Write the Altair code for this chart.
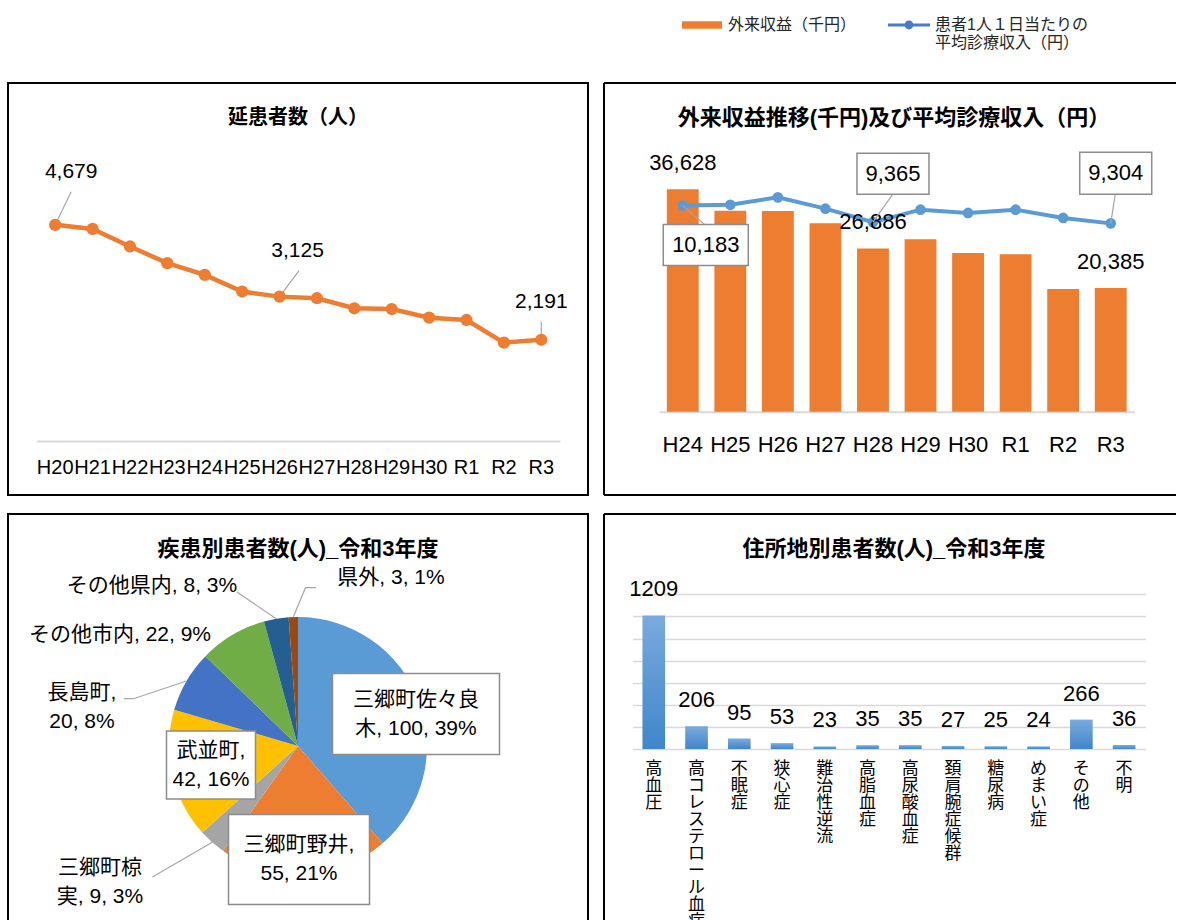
import math
import altair as alt
import pandas as pd

# ---------------- data ----------------
years_a = ["H20", "H21", "H22", "H23", "H24", "H25", "H26", "H27", "H28", "H29", "H30", "R1", "R2", "R3"]
patients = [4679, 4590, 4210, 3850, 3596, 3235, 3125, 3090, 2873, 2857, 2670, 2620, 2129, 2191]

years_b = ["H24", "H25", "H26", "H27", "H28", "H29", "H30", "R1", "R2", "R3"]
revenue = [36628, 33100, 33050, 31020, 26886, 28380, 26140, 25910, 20200, 20385]
avg_income = [10183, 10220, 10590, 10030, 9365, 9980, 9820, 9980, 9570, 9304]

series_names = ["外来収益（千円）", "患者1人１日当たりの平均診療収入（円）"]

areas = ["三郷町佐々良木", "三郷町野井", "三郷町椋実", "武並町", "長島町", "その他市内", "その他県内", "県外"]
area_counts = [100, 55, 9, 42, 20, 22, 8, 3]

diseases = ["高血圧", "高コレステロール血症", "不眠症", "狭心症", "難治性逆流", "高脂血症",
            "高尿酸血症", "頚肩腕症候群", "糖尿病", "めまい症", "その他", "不明"]
disease_counts = [1209, 206, 95, 53, 23, 35, 35, 27, 25, 24, 266, 36]

titles = ["延患者数（人）", "外来収益推移(千円)及び平均診療収入（円）",
          "疾患別患者数(人)_令和3年度", "住所地別患者数(人)_令和3年度"]

# ---------------- style ----------------
FONT = "Liberation Sans, Noto Sans CJK JP, sans-serif"
ORANGE = "#ED7D31"
BLUE = "#5B9BD5"
LEG_BLUE = "#4A7BC8"
AXIS_GRAY = "#D9D9D9"
LEADER = "#A6A6A6"
BOX_STROKE = "#8C8C8C"
PIE_COLORS = ["#5B9BD5", "#ED7D31", "#A5A5A5", "#FFC000", "#4472C4", "#70AD47", "#255E91", "#9E480E"]
PW, PH = 580, 412      # left panels (full box)
PW2 = 572              # right panels (box continues past the page edge)
VIEW = alt.ViewBackground(stroke="black", strokeWidth=2, fill="white")
NOVIEW = alt.ViewBackground(stroke="transparent", strokeWidth=0, fill="white")


def box_path(w, h):
    k = h / w
    return f"M-1,-{k:.4f}H1V{k:.4f}H-1Z"


def title_layer(text, size, w):
    return alt.Chart(pd.DataFrame({"t": [text]})).mark_text(
        fontSize=size, fontWeight="bold", color="black", baseline="middle"
    ).encode(text="t:N", x=alt.value(w / 2), y=alt.value(35))


def open_border(w, h, bottom=True):
    """left, top (and bottom) edges of a panel whose right edge lies off the page"""
    one = pd.DataFrame({"a": [0]})
    rule = lambda: alt.Chart(one).mark_rule(color="black", strokeWidth=2)
    out = [rule().encode(x=alt.value(0), y=alt.value(0), y2=alt.value(h)),
           rule().encode(x=alt.value(0), x2=alt.value(w), y=alt.value(0))]
    if bottom:
        out.append(rule().encode(x=alt.value(0), x2=alt.value(w), y=alt.value(h)))
    return out


# ---------------- panel 1 : line ----------------
df1 = pd.DataFrame({"year": years_a, "v": patients})
x1 = alt.X("year:N", scale=alt.Scale(type="band", domain=years_a, range=[28.5, 552],
                                      paddingInner=0, paddingOuter=0),
           axis=alt.Axis(title=None, offset=-54, domainColor=AXIS_GRAY, domainWidth=2,
                         ticks=False, tickSize=0, labelPadding=26, labelFontSize=20,
                         labelBaseline="middle", labelAngle=0, labelColor="black",
                         labelOverlap=False, grid=False))
y1 = alt.Y("v:Q", scale=alt.Scale(domain=[0, 5000], range=[358, 127], nice=False), axis=None)

# (index, label dx, label dy, leader end dx, leader end dy)
lab1 = [(0, 16, -53, 16, -33), (6, 18, -46, 19.5, -26), (13, 0, -38, 0, -18)]

layers1 = [title_layer(titles[0], 20, PW),
           alt.Chart(df1).mark_line(color=ORANGE, strokeWidth=4.5).encode(x=x1, y=y1)]
for idx, dx, dy, ex, ey in lab1:
    layers1.append(alt.Chart(df1.iloc[[idx]]).mark_rule(
        color=LEADER, strokeWidth=1.2, x2Offset=ex, y2Offset=ey
    ).encode(x=x1, y=y1, x2=alt.X2("year"), y2=alt.Y2("v")))
layers1.append(alt.Chart(df1).mark_circle(color=ORANGE, size=150, opacity=1).encode(x=x1, y=y1))
for idx, dx, dy, ex, ey in lab1:
    layers1.append(alt.Chart(df1.iloc[[idx]]).mark_text(
        dx=dx, dy=dy, fontSize=21, color="black", baseline="middle"
    ).encode(x=x1, y=y1, text=alt.Text("v:Q", format=",")))
p1 = alt.layer(*layers1).properties(width=PW, height=PH, view=VIEW)

# ---------------- panel 2 : bars + line ----------------
df2 = pd.DataFrame({"year": years_b, "v": revenue, "w": avg_income})
x2 = alt.X("year:N", scale=alt.Scale(type="band", domain=years_b, range=[55, 530.5],
                                      paddingInner=0.33, paddingOuter=0.165),
           axis=alt.Axis(title=None, offset=-83.3, domainColor=AXIS_GRAY, domainWidth=2,
                         ticks=False, tickSize=0, labelPadding=33, labelFontSize=22,
                         labelBaseline="middle", labelAngle=0, labelColor="black",
                         labelOverlap=False, grid=False))
y2b = alt.Y("v:Q", scale=alt.Scale(domain=[0, 40000], range=[328.7, 85.8], nice=False), axis=None)
y2l = alt.Y("w:Q", scale=alt.Scale(domain=[0, 12000], range=[328.7, 85.8], nice=False), axis=None)

bar_lab_idx = [0, 4, 9]
# (index, box dx, box dy, box w, box h, leader end dx, leader end dy)
lab2 = [(0, 23, 39.5, 85, 41, 22, 19), (4, 20, -48.5, 72, 41, 19.5, -27.5), (9, 5, -50, 72, 42, 4.5, -29)]

layers2 = open_border(PW2, PH) + [
    title_layer(titles[1], 22, PW),
    alt.Chart(df2).mark_bar(color=ORANGE).encode(x=x2, y=y2b),
    alt.Chart(df2).mark_line(color=BLUE, strokeWidth=4).encode(x=x2, y=y2l),
    alt.Chart(df2).mark_circle(color=BLUE, size=115, opacity=1).encode(x=x2, y=y2l),
    alt.Chart(df2.iloc[bar_lab_idx]).mark_text(dy=-26, fontSize=22, color="black", baseline="middle")
    .encode(x=x2, y=y2b, text=alt.Text("v:Q", format=",")),
]
for idx, dx, dy, bw, bh, ex, ey in lab2:
    d = df2.iloc[[idx]]
    layers2.append(alt.Chart(d).mark_rule(color=LEADER, strokeWidth=1.2, x2Offset=ex, y2Offset=ey)
                   .encode(x=x2, y=y2l, x2=alt.X2("year"), y2=alt.Y2("w")))
    layers2.append(alt.Chart(d).mark_point(shape=box_path(bw, bh), size=bw * bw, filled=True,
                                           fill="white", stroke=BOX_STROKE, strokeWidth=1.5,
                                           opacity=1, xOffset=dx, yOffset=dy)
                   .encode(x=x2, y=y2l))
    layers2.append(alt.Chart(d).mark_text(dx=dx, dy=dy, fontSize=22, color="black", baseline="middle")
                   .encode(x=x2, y=y2l, text=alt.Text("w:Q", format=",")))
p2 = alt.layer(*layers2).resolve_scale(y="independent").properties(width=PW2, height=PH, view=NOVIEW)

# ---------------- panel 3 : pie ----------------
CX, CY, R = 290, 232, 129
LH = 29
total = sum(area_counts)
raw = [c * 100 / total for c in area_counts]
pct = [math.floor(r) for r in raw]
for i in sorted(range(len(raw)), key=lambda i: raw[i] - pct[i], reverse=True)[: 100 - sum(pct)]:
    pct[i] += 1
wrap_at = [6, 6, 4, 4, 4, 0, 0, 0]
label_off = [(118, -32), (1, 113.5), (-198, 136), (-87, 19), (-216, -39), (-178, -111), (-146, -160), (93, -168)]
box_size = {0: (167, 81), 1: (141, 90), 3: (89, 68)}
leader_pts = {2: [(-145.6, 131)], 4: [(-164.4, -47.3), (-174, -47.3)],
              6: [(-61, -154)], 7: [(7.5, -158.3), (18, -158.3)]}

labels, mids, nlines = [], [], []
cum = 0
for i, (n, c) in enumerate(zip(areas, area_counts)):
    full = f"{n}, {c}, {pct[i]}%"
    if wrap_at[i]:
        full = full[:wrap_at[i]] + "\n" + full[wrap_at[i]:].strip()
    labels.append(full)
    nlines.append(full.count("\n") + 1)
    mids.append((cum + c / 2) / total * 2 * math.pi)
    cum += c

pie_df = pd.DataFrame({"name": areas, "count": area_counts, "idx": list(range(len(areas))), "col": PIE_COLORS})
lab_df = pd.DataFrame({"label": labels,
                       "lx": [CX + o[0] for o in label_off],
                       "ly": [CY + o[1] - (k - 1) * LH / 2 for o, k in zip(label_off, nlines)]})
box_df = pd.DataFrame({"bx": [CX + label_off[i][0] for i in box_size],
                       "by": [CY + label_off[i][1] for i in box_size],
                       "shp": [box_path(*box_size[i]) for i in box_size],
                       "sz": [box_size[i][0] ** 2 for i in box_size]})
lrows = []
for i, pts in leader_pts.items():
    lrows.append({"lid": i, "o": 0, "x": CX + R * math.sin(mids[i]), "y": CY - R * math.cos(mids[i])})
    for k, (px, py) in enumerate(pts):
        lrows.append({"lid": i, "o": k + 1, "x": CX + px, "y": CY + py})
lead_df = pd.DataFrame(lrows)

p3 = alt.layer(
    title_layer(titles[2], 22, PW),
    alt.Chart(pie_df).mark_arc(outerRadius=R).encode(
        theta=alt.Theta("count:Q", stack=True), order=alt.Order("idx:Q"),
        color=alt.Color("col:N", scale=None), x=alt.value(CX), y=alt.value(CY)),
    alt.Chart(lead_df).mark_line(color=LEADER, strokeWidth=1.2).encode(
        x=alt.X("x:Q", scale=None), y=alt.Y("y:Q", scale=None), detail="lid:N", order="o:Q"),
    alt.Chart(box_df).mark_point(filled=True, fill="white", stroke=BOX_STROKE, strokeWidth=1.5, opacity=1)
    .encode(x=alt.X("bx:Q", scale=None), y=alt.Y("by:Q", scale=None),
            shape=alt.Shape("shp:N", scale=None), size=alt.Size("sz:Q", scale=None)),
    alt.Chart(lab_df).mark_text(fontSize=21, lineBreak="\n", lineHeight=LH, color="black", baseline="middle")
    .encode(x=alt.X("lx:Q", scale=None), y=alt.Y("ly:Q", scale=None), text="label:N"),
).properties(width=PW, height=PH, view=VIEW)

# ---------------- panel 4 : bars ----------------
df4 = pd.DataFrame({"d": diseases, "c": disease_counts})
x4 = alt.X("d:N", scale=alt.Scale(type="band", domain=diseases, range=[28.4, 541.5],
                                   paddingInner=0.47, paddingOuter=0.235),
           axis=alt.Axis(title=None, offset=-177, domain=False, ticks=False, tickSize=0,
                         labelPadding=11, labelFontSize=17, labelLineHeight=17, labelBaseline="top",
                         labelAngle=0, labelColor="black", labelOverlap=False,
                         labelExpr="split(datum.label, '')", grid=False))
y4 = alt.Y("c:Q", scale=alt.Scale(domain=[0, 1400], range=[235, 80.3], nice=False),
           axis=alt.Axis(title=None, labels=False, ticks=False, domain=False, grid=True,
                         values=list(range(0, 1401, 200)), gridColor=AXIS_GRAY, gridWidth=1.5))
grad = alt.LinearGradient(gradient="linear",
                          stops=[alt.GradientStop(color="#7AAADD", offset=0),
                                 alt.GradientStop(color="#3F86CB", offset=1)],
                          x1=0, x2=0, y1=0, y2=1)
p4 = alt.layer(*(open_border(PW2, PH, bottom=False) + [
    title_layer(titles[3], 22, PW),
    alt.Chart(df4).mark_bar(color=grad).encode(x=x4, y=y4),
    alt.Chart(df4).mark_text(dy=-26, fontSize=22, color="black", baseline="middle")
    .encode(x=x4, y=y4, text="c:Q"),
])).properties(width=PW2, height=PH, view=NOVIEW)

# ---------------- legend strip ----------------
rect_sym = "M-1,-0.19H1V0.19H-1Z"
line_sym = ("M-1.05,-0.075H1.05V0.075H-1.05Z "
            "M-0.22,0A0.22,0.22 0 1,1 0.22,0A0.22,0.22 0 1,1 -0.22,0Z")
leg = alt.Legend(title=None, orient="none", legendX=674, legendY=5, direction="horizontal",
                 symbolSize=1600, labelFontSize=16, labelBaseline="middle", labelOffset=6,
                 columnPadding=31, labelLimit=400, labelColor="#262626", symbolOpacity=1,
                 symbolStrokeWidth=0, padding=0,
                 labelExpr="length(datum.label) > 12 ? [substring(datum.label, 0, 10), substring(datum.label, 10)] : [datum.label, '']")
legend_chart = alt.Chart(pd.DataFrame({"series": series_names})).mark_point(filled=True, opacity=0).encode(
    color=alt.Color("series:N", scale=alt.Scale(domain=series_names, range=[ORANGE, LEG_BLUE]), legend=leg),
    shape=alt.Shape("series:N", scale=alt.Scale(domain=series_names, range=[rect_sym, line_sym]), legend=leg),
).properties(width=1100, height=65, view=NOVIEW)

chart = alt.vconcat(
    legend_chart,
    alt.hconcat(p1, p2, spacing=14),
    alt.hconcat(p3, p4, spacing=14),
    spacing=17,
).properties(
    padding={"left": 7, "top": 0, "right": 0, "bottom": 0}
).configure(font=FONT, background="white").configure_view(stroke="transparent")

chart.save("out.html", embed_options={"renderer": "svg", "actions": False})
